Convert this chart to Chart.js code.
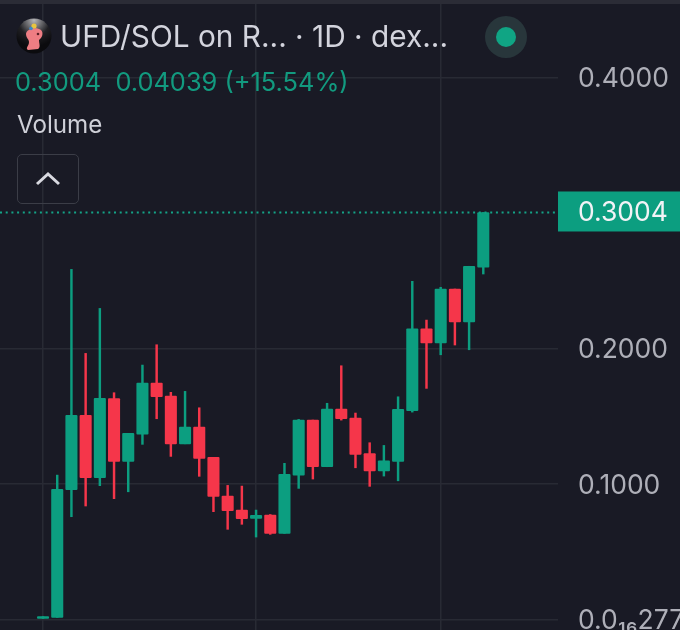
<!DOCTYPE html>
<html>
<head>
<meta charset="utf-8">
<title>UFD/SOL</title>
<script src="https://cdn.jsdelivr.net/npm/chart.js@4/dist/chart.umd.min.js"></script>
<style>
    html, body { margin: 0; padding: 0; background: #191a25; }
    #wrap { position: relative; width: 680px; height: 630px; overflow: hidden; font-family: Inter, sans-serif; }
    #chart { display: block; }
    #strip { position: absolute; left: 0; top: 0; width: 680px; height: 4px; background: #2b2c36; }
    .txt { position: absolute; white-space: pre; line-height: 1; }
    #title { left: 60px; top: 22px; font-size: 29.8px; color: #d3d4dd; }
    #price { left: 15px; top: 69px; font-size: 25.4px; color: #129a7f; }
    #vol { left: 17px; top: 113px; font-size: 24.2px; color: #cfd0d8; }
    #btn { position: absolute; left: 17px; top: 154px; width: 60px; height: 48px; border: 1.5px solid #3b3d47; border-radius: 5px; box-sizing: content-box; }
    #dot { position: absolute; left: 485px; top: 16px; width: 42px; height: 42px; border-radius: 50%; background: #28363b; }
    #dot div { position: absolute; left: 11px; top: 11px; width: 20px; height: 20px; border-radius: 50%; background: #10a584; }
    svg { position: absolute; }
</style>
</head>
<body>
<div id="wrap">
    <canvas id="chart" width="680" height="630"></canvas>
    <div id="strip"></div>
    <svg style="left:16px;top:18px" width="36" height="36" viewBox="0 0 36 36">
        <defs><radialGradient id="g" cx="50%" cy="5%" r="75%"><stop offset="0" stop-color="#b5b5b8"/><stop offset="0.6" stop-color="#202024"/><stop offset="1" stop-color="#0b0b0e"/></radialGradient></defs>
        <circle cx="18" cy="18" r="17.5" fill="url(#g)"/>
        <path d="M10 16 C10 11 20 8 25 12 C28 15 26 20 23 22 C23 26 25 29 22 31 L12 32 C9 30 13 28 13 24 C13 21 10 20 10 16 Z" fill="#ee7d83"/>
        <circle cx="18" cy="8" r="2.6" fill="#e8c53f"/>
        <circle cx="15" cy="10.5" r="1.8" fill="#3f88c9"/>
        <circle cx="22" cy="16" r="1.3" fill="#5a2028"/>
    </svg>
    <div class="txt" id="title">UFD/SOL on R... · 1D · dex...</div>
    <div class="txt" id="price">0.3004  0.04039 (+15.54%)</div>
    <div class="txt" id="vol">Volume</div>
    <div id="btn">
        <svg style="left:17px;top:15px" width="26" height="18" viewBox="0 0 26 18"><path d="M2 14 L13 4 L24 14" fill="none" stroke="#d8d9e0" stroke-width="3"/></svg>
    </div>
    <div id="dot"><div></div></div>
</div>
<script>
// daily candles
var days  = [0,1,2,3,4,5,6,7,8,9,10,11,12,13,14,15,16,17,18,19,20,21,22,23,24,25,26,27,28,29,30,31];
var opens = [.0008,.0016,.0958,.1507,.1047,.1630,.1167,.1369,.1745,.1649,.1297,.1421,.1197,.0911,.0808,.0747,.0771,.0636,.1066,.1472,.1128,.1553,.1487,.1224,.1096,.1167,.1541,.2146,.2041,.2439,.2196,.2600];
var highs = [.0022,.1066,.2584,.1964,.2296,.1674,.1374,.1878,.2028,.1677,.1684,.1563,.1197,.0990,.0985,.0808,.0775,.1153,.1477,.1472,.1596,.1873,.1524,.1305,.1285,.1644,.2496,.2210,.2452,.2439,.2607,.3004];
var lows  = [.0008,.0016,.0759,.0838,.0988,.0892,.0943,.1293,.1482,.1204,.1297,.1057,.0796,.0666,.0703,.0609,.0629,.0636,.0968,.1037,.1128,.1472,.1120,.0983,.1059,.1024,.1531,.1706,.1954,.2026,.1991,.2550];
var closes= [.0022,.0961,.1507,.1047,.1632,.1167,.1374,.1745,.1644,.1297,.1421,.1190,.0909,.0803,.0744,.0769,.0636,.1072,.1472,.1128,.1553,.1482,.1219,.1096,.1172,.1551,.2146,.2041,.2439,.2196,.2607,.3004];

var yTicks = [0, 0.1, 0.2, 0.4];
var yTickLabels = ["0.0₁₆277", "0.1000", "0.2000", "0.4000"];
var xGridDays = [0, 15, 28];
var lastPrice = 0.3004;
var lastPriceLabel = "0.3004";

var GREEN = "#0c9e80";
var RED = "#f5364a";

var colors = days.map(function (d, i) { return closes[i] >= opens[i] ? GREEN : RED; });

var priceLine = {
    id: "priceLine",
    afterDraw: function (chart) {
        var c = chart.ctx;
        var y = chart.scales.y.getPixelForValue(lastPrice);
        var area = chart.chartArea;
        c.save();
        c.strokeStyle = "#14a387";
        c.lineWidth = 2;
        c.setLineDash([2, 3.7]);
        c.beginPath();
        c.moveTo(0, y);
        c.lineTo(area.right, y);
        c.stroke();
        c.setLineDash([]);
        c.fillStyle = GREEN;
        c.fillRect(area.right, y - 21, 122, 40);
        c.fillStyle = "#f2f3f6";
        c.font = "26.5px Inter";
        c.textBaseline = "middle";
        c.fillText(lastPriceLabel, 578, y + 1);
        c.restore();
    }
};

var ctx = document.getElementById("chart").getContext("2d");
var chart = new Chart(ctx, {
    type: "bar",
    data: {
        datasets: [{
            label: "wick",
            data: days.map(function (d, i) { return { x: d, y: [lows[i], highs[i]] }; }),
            backgroundColor: colors,
            barThickness: 1.8,
            order: 2
        }, {
            label: "body",
            data: days.map(function (d, i) { return { x: d, y: [opens[i], closes[i]] }; }),
            backgroundColor: colors,
            barThickness: 11.4,
            borderRadius: 1,
            borderSkipped: false,
            order: 1
        }]
    },
    options: {
        responsive: false,
        animation: false,
        grouped: false,
        layout: { autoPadding: false, padding: 0 },
        plugins: { legend: { display: false }, tooltip: { enabled: false } },
        scales: {
            x: {
                type: "linear",
                min: -3.03,
                max: 36.26,
                offset: false,
                grid: { color: "#282a34", lineWidth: 1.5, offset: false, drawTicks: false },
                border: { display: false },
                ticks: { display: false },
                afterBuildTicks: function (scale) {
                    scale.ticks = xGridDays.map(function (v) { return { value: v }; });
                },
                afterFit: function (scale) {
                    scale.height = 0;
                    scale.paddingLeft = 0;
                    scale.paddingRight = 0;
                }
            },
            y: {
                position: "right",
                min: -0.0077,
                max: 0.4572,
                grid: { color: "#282a34", lineWidth: 1.5, drawTicks: false },
                border: { display: false },
                ticks: {
                    color: "#aeafb8",
                    font: { family: "Inter", size: 26.5 },
                    padding: 20,
                    labelOffset: 1.5,
                    align: "center",
                    crossAlign: "near",
                    autoSkip: false,
                    callback: function (value) {
                        var i = yTicks.indexOf(value);
                        return i < 0 ? "" : yTickLabels[i];
                    }
                },
                afterBuildTicks: function (scale) {
                    scale.ticks = yTicks.map(function (v) { return { value: v }; });
                },
                afterFit: function (scale) {
                    scale.width = 122;
                    scale.paddingTop = 0;
                    scale.paddingBottom = 0;
                }
            }
        }
    },
    plugins: [priceLine]
});
</script>
</body>
</html>
